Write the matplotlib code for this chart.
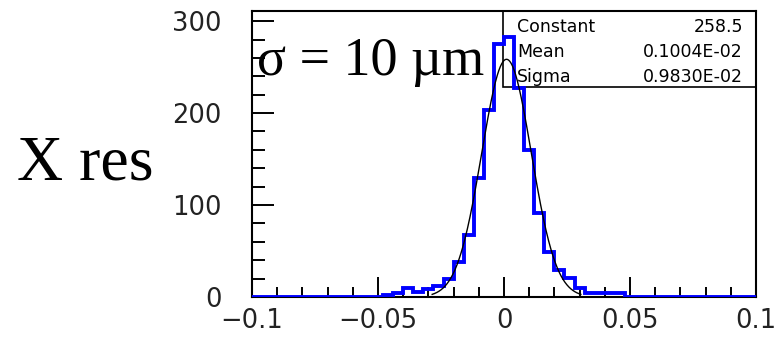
import numpy as np
import matplotlib
matplotlib.use("Agg")
import matplotlib.pyplot as plt
from matplotlib.patches import Rectangle
from matplotlib.ticker import MultipleLocator

### histogram data (50 bins of 0.004 from -0.1 to 0.1) ###
bin_edges = np.linspace(-0.1, 0.1, 51)
counts = [0, 0, 0, 0, 0, 0, 0, 0, 0, 0,
          0, 0, 0, 2, 4, 10, 5, 9, 12, 20,
          38, 67, 129, 203, 275, 283, 227, 160, 91, 49,
          29, 21, 10, 4, 4, 4, 4, 0, 0, 0,
          0, 0, 0, 0, 0, 0, 0, 0, 0, 0]

### gaussian fit shown in the stats box ###
fit_const = 258.5
fit_mean = 0.1004e-02
fit_sigma = 0.9830e-02
fit_lo = -0.0285
fit_hi = 0.0305

stat_names = ["Constant", "Mean", "Sigma"]
stat_values = ["258.5", "0.1004E-02", "0.9830E-02"]

x_ticks = [-0.1, -0.05, 0, 0.05, 0.1]
x_ticklabels = ["\u22120.1", "\u22120.05", "0", "0.05", "0.1"]
y_ticks = [0, 100, 200, 300]

W, H = 776, 343
fig = plt.figure(figsize=(W / 100, H / 100), dpi=100)
ax = fig.add_axes([252 / W, 46 / H, 504 / W, 286 / H])

### histogram + fit curve ###
ax.stairs(counts, bin_edges, color="#0000ff", lw=2.8, baseline=0, zorder=3)
xf = np.linspace(fit_lo, fit_hi, 300)
ax.plot(xf, fit_const * np.exp(-0.5 * ((xf - fit_mean) / fit_sigma) ** 2),
        color="black", lw=1.0, zorder=4)

ax.set_xlim(-0.1, 0.1)
ax.set_ylim(0, 311)

### ROOT-ish axes ###
for s in ax.spines.values():
    s.set_linewidth(1.5)
    s.set_zorder(2)
ax.set_xticks(x_ticks)
ax.set_xticklabels(x_ticklabels)
ax.set_yticks(y_ticks)
ax.xaxis.set_minor_locator(MultipleLocator(0.01))
ax.yaxis.set_minor_locator(MultipleLocator(20))
ax.tick_params(which="both", direction="in", width=1.4, top=False, right=False,
               labelcolor="#222222")
ax.tick_params(axis="x", which="major", length=14.5, pad=8, labelsize=18.5)
ax.tick_params(axis="x", which="minor", length=7)
ax.tick_params(axis="y", which="major", length=16, pad=21.6, labelsize=18.5)
ax.tick_params(axis="y", which="minor", length=9)

### stats box ###
ax.add_patch(Rectangle((0.498, 0.734), 0.502, 0.266, transform=ax.transAxes,
                       fill=False, edgecolor="black", lw=1.2, zorder=1))
row_base = [32, 57, 82]
for name, val, yb in zip(stat_names, stat_values, row_base):
    fig.text(517 / W, 1 - yb / H, name, fontsize=12.5, va="baseline", ha="left")
    fig.text(743 / W, 1 - yb / H, val, fontsize=12.5, va="baseline", ha="right")

### big serif labels ###
fig.text(257 / W, 1 - 75 / H, "\u03c3 = 10 \u00b5m", family="Liberation Serif",
         fontsize=39, va="baseline", ha="left")
fig.text(17 / W, 1 - 180 / H, "X res", family="Liberation Serif",
         fontsize=46, va="baseline", ha="left")

fig.savefig("out.png", dpi=100)
